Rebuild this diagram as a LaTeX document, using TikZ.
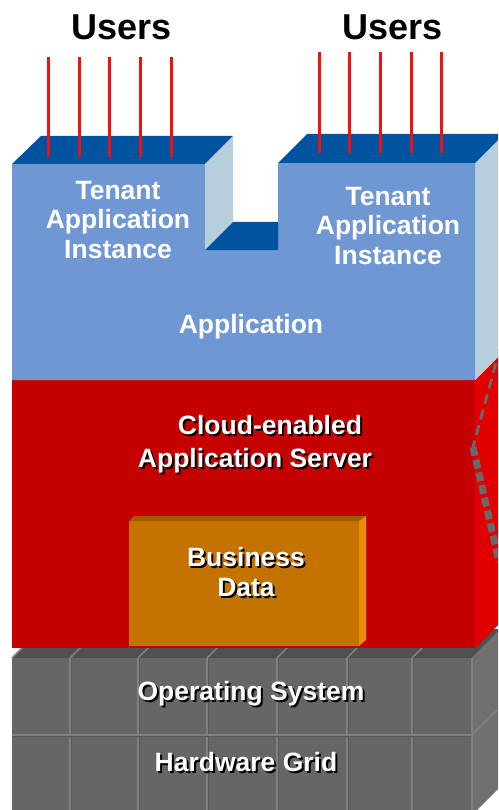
\documentclass[tikz,border=0pt]{standalone}
\usepackage{fontspec}
\setmainfont{Liberation Sans}
\definecolor{btop}{RGB}{0,84,159}
\definecolor{bfront}{RGB}{111,151,212}
\definecolor{bside}{RGB}{183,206,220}
\definecolor{rfront}{RGB}{196,0,0}
\definecolor{rside}{RGB}{224,0,0}
\definecolor{ofront}{RGB}{196,114,0}
\definecolor{otop}{RGB}{160,92,0}
\definecolor{oside}{RGB}{232,140,0}
\definecolor{gfront}{RGB}{102,102,102}
\definecolor{gtop}{RGB}{80,80,80}
\definecolor{gside}{RGB}{112,112,112}
\definecolor{gsep}{RGB}{128,128,128}
\definecolor{gdark}{RGB}{88,88,88}
\definecolor{userline}{RGB}{238,17,17}
\definecolor{dashgray}{RGB}{105,105,105}
\newcommand\myshadow[1]{\makebox[0pt][l]{\kern2pt\raisebox{-2pt}{\color{black}#1}}#1}
\begin{document}
\begin{tikzpicture}[x=1pt,y=-1pt,
  lbl/.style={font=\bfseries\fontsize{26.5}{29.5}\selectfont, text=white, inner sep=0pt, align=center},
  userlbl/.style={font=\bfseries\fontsize{36}{40}\selectfont, text=black, inner sep=0pt},
  uline/.style={draw=userline, line width=3pt},
  seplight/.style={draw=gsep, line width=1.6pt},
  sepdark/.style={draw=gdark, line width=1pt}]
\useasboundingbox (0,0) rectangle (498,810);
\clip (0,0) rectangle (498,810);

% ---------- gray grid layer ----------
\fill[gtop] (12,658) -- (41,629) -- (501,629) -- (472,658) -- cycle;
\fill[gside] (472,658) -- (501,629) -- (501,786) -- (472,815) -- cycle;
\fill[gfront] (12,658) rectangle (472,812);
\foreach \x in {70,138,207,277,347,412} {
  \draw[sepdark] (\x+1.5,658) -- (\x+1.5,812);
  \draw[seplight] (\x,658) -- (\x,812);
  \draw[seplight] (\x,658) -- (\x+29,629);
}
\draw[seplight] (12,658) -- (41,629);
\draw[seplight] (12,735) -- (472,735);
\draw[sepdark] (12,736.5) -- (472,736.5);
\draw[seplight] (472,658) -- (472,812);
\draw[seplight] (472,735) -- (501,706);

% ---------- red layer ----------
\fill[rside] (475,380) -- (504,351) -- (504,619) -- (475,648) -- cycle;
\fill[rfront] (12,380) rectangle (475,648);
\coordinate (d1) at (500,348);
\coordinate (d2) at (473,447);
\coordinate (d3) at (499,562);
\draw[dashgray, line width=3pt, dash pattern=on 10pt off 6pt] (d1) -- (d2);
\draw[dashgray, line width=7pt, dash pattern=on 9pt off 4pt] (d2) -- (d3);

% business data box
\fill[otop] (129,521) -- (134,516) -- (366,516) -- (359,521) -- cycle;
\fill[oside] (359,521) -- (366,516) -- (366,640) -- (359,646) -- cycle;
\fill[ofront] (129,521) rectangle (359,646);

% ---------- blue layer ----------
\fill[bside] (475,163) -- (504,134) -- (504,351) -- (475,380) -- cycle;
\fill[bfront] (12,164) -- (205,164) -- (205,250) -- (278,250) -- (278,163)
  -- (475,163) -- (475,380) -- (12,380) -- cycle;
\fill[btop] (12,164) -- (41,136) -- (233,136) -- (205,164) -- cycle;
\fill[bside] (205,164) -- (233,136) -- (233,222) -- (205,250) -- cycle;
\fill[btop] (205,250) -- (233,222) -- (278,222) -- (278,250) -- cycle;
\fill[btop] (278,163) -- (307,134) -- (504,134) -- (475,163) -- cycle;

% ---------- users ----------
\node[userlbl] (usersL) at (122,27) {Users};
\node[userlbl] (usersR) at (393,27) {Users};
\foreach \x in {48,79,109,140,171} {
  \draw[uline] (\x,57) -- (\x,157);
}
\foreach \x in {319,349,380,411,441} {
  \draw[uline] (\x,52) -- (\x,153);
}

% ---------- labels ----------
\node[lbl] (tenantL) at (118,220) {Tenant\\Application\\Instance};
\node[lbl] (tenantR) at (388,226) {Tenant\\Application\\Instance};
\node[lbl] (app) at (251,327) {Application};

\node[lbl] (cloudA) at (270,426) {\myshadow{Cloud-enabled}};
\node[lbl] (cloudB) at (255,462) {\myshadow{Application Server}};
\node[lbl] (biz) at (246,573) {\myshadow{Business}\\\myshadow{Data}};
\node[lbl] (os) at (251,695) {\myshadow{Operating System}};
\node[lbl] (hw) at (246,763) {\myshadow{Hardware Grid}};
\end{tikzpicture}
\end{document}
